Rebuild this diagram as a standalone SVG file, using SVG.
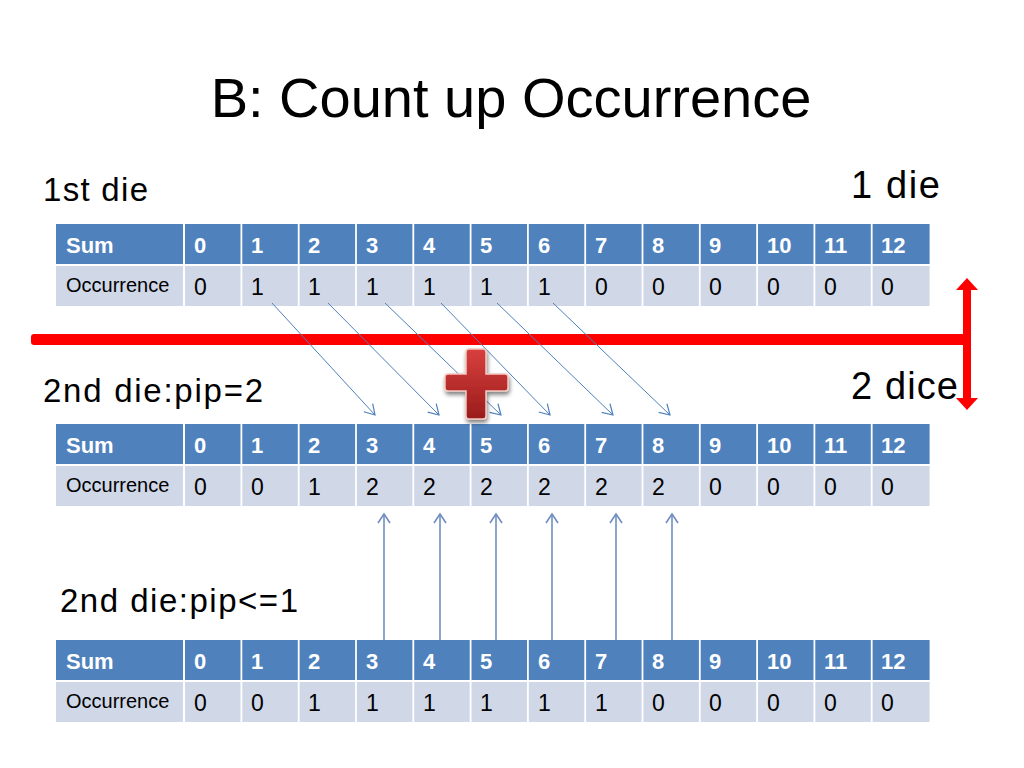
<svg xmlns="http://www.w3.org/2000/svg" width="1024" height="768" viewBox="0 0 1024 768">
<defs>
<style>
.hd{fill:#4F81BD}
.rw{fill:#D0D8E8}
.ht{font-family:"Liberation Sans",Arial,sans-serif;font-weight:bold;font-size:22px;fill:#fff}
.rt{font-family:"Liberation Sans",Arial,sans-serif;font-size:23px;fill:#000}
.ot{font-family:"Liberation Sans",Arial,sans-serif;font-size:20px;fill:#000}
.lb{font-family:"Liberation Sans",Arial,sans-serif;fill:#000}
.ar{stroke:#4F81BD;stroke-width:1;fill:none}
.up{stroke:#6F8EBF;stroke-width:1.6;fill:none}
</style>
<marker id="ah" markerWidth="14" markerHeight="14" refX="11" refY="7" orient="auto" markerUnits="userSpaceOnUse">
<path d="M1,1 L11,7 L1,13" fill="none" stroke="#4F81BD" stroke-width="1.2"/>
</marker>
<marker id="ahu" markerWidth="14" markerHeight="14" refX="11" refY="7" orient="auto" markerUnits="userSpaceOnUse">
<path d="M2,1 L11,7 L2,13" fill="none" stroke="#6F8EBF" stroke-width="1.6"/>
</marker>
<linearGradient id="pg" x1="0" y1="0" x2="0" y2="1">
<stop offset="0" stop-color="#D8403E"/>
<stop offset="1" stop-color="#9A1C1B"/>
</linearGradient>
<filter id="sh" x="-30%" y="-30%" width="160%" height="160%">
<feGaussianBlur in="SourceAlpha" stdDeviation="2"/>
<feOffset dx="1" dy="3" result="o"/>
<feComponentTransfer><feFuncA type="linear" slope="0.5"/></feComponentTransfer>
<feMerge><feMergeNode/><feMergeNode in="SourceGraphic"/></feMerge>
</filter>
<g id="grid">
<rect class="hd" x="56" y="0" width="127" height="40"/>
<rect class="hd" x="185" y="0" width="55.5" height="40"/>
<rect class="hd" x="242.3" y="0" width="55.5" height="40"/>
<rect class="hd" x="299.6" y="0" width="55.5" height="40"/>
<rect class="hd" x="356.9" y="0" width="55.5" height="40"/>
<rect class="hd" x="414.2" y="0" width="55.5" height="40"/>
<rect class="hd" x="471.5" y="0" width="55.5" height="40"/>
<rect class="hd" x="528.8" y="0" width="55.5" height="40"/>
<rect class="hd" x="586.1" y="0" width="55.5" height="40"/>
<rect class="hd" x="643.4" y="0" width="55.5" height="40"/>
<rect class="hd" x="700.7" y="0" width="55.5" height="40"/>
<rect class="hd" x="758" y="0" width="55.5" height="40"/>
<rect class="hd" x="815.3" y="0" width="55.5" height="40"/>
<rect class="hd" x="872.6" y="0" width="57" height="40"/>
<rect class="rw" x="56" y="42" width="127" height="40"/>
<rect class="rw" x="185" y="42" width="55.5" height="40"/>
<rect class="rw" x="242.3" y="42" width="55.5" height="40"/>
<rect class="rw" x="299.6" y="42" width="55.5" height="40"/>
<rect class="rw" x="356.9" y="42" width="55.5" height="40"/>
<rect class="rw" x="414.2" y="42" width="55.5" height="40"/>
<rect class="rw" x="471.5" y="42" width="55.5" height="40"/>
<rect class="rw" x="528.8" y="42" width="55.5" height="40"/>
<rect class="rw" x="586.1" y="42" width="55.5" height="40"/>
<rect class="rw" x="643.4" y="42" width="55.5" height="40"/>
<rect class="rw" x="700.7" y="42" width="55.5" height="40"/>
<rect class="rw" x="758" y="42" width="55.5" height="40"/>
<rect class="rw" x="815.3" y="42" width="55.5" height="40"/>
<rect class="rw" x="872.6" y="42" width="57" height="40"/>
<g class="ht">
<text x="66" y="29">Sum</text>
<text x="194" y="29">0</text>
<text x="251" y="29">1</text>
<text x="308" y="29">2</text>
<text x="366" y="29">3</text>
<text x="423" y="29">4</text>
<text x="480" y="29">5</text>
<text x="538" y="29">6</text>
<text x="595" y="29">7</text>
<text x="652" y="29">8</text>
<text x="709" y="29">9</text>
<text x="767" y="29">10</text>
<text x="824" y="29">11</text>
<text x="881" y="29">12</text>
</g>
<text class="ot" x="66" y="68">Occurrence</text>
</g>
</defs>

<text class="lb" x="511" y="117" font-size="56" text-anchor="middle">B: Count up Occurrence</text>

<g id="labels">
<text class="lb" x="43" y="201" font-size="33" textLength="105">1st die</text>
<text class="lb" x="851" y="198" font-size="38" textLength="89">1 die</text>
<text class="lb" x="43" y="402" font-size="33" textLength="220">2nd die:pip=2</text>
<text class="lb" x="851" y="399" font-size="38" textLength="107">2 dice</text>
<text class="lb" x="60" y="612" font-size="33" textLength="238">2nd die:pip&lt;=1</text>
</g>

<g id="table1" transform="translate(0,224)">
<use href="#grid"/>
<g class="rt">
<text x="194" y="71">0</text><text x="251" y="71">1</text><text x="308" y="71">1</text><text x="366" y="71">1</text><text x="423" y="71">1</text><text x="480" y="71">1</text><text x="538" y="71">1</text><text x="595" y="71">0</text><text x="652" y="71">0</text><text x="709" y="71">0</text><text x="767" y="71">0</text><text x="824" y="71">0</text><text x="881" y="71">0</text>
</g>
</g>

<g id="table2" transform="translate(0,424)">
<use href="#grid"/>
<g class="rt">
<text x="194" y="71">0</text><text x="251" y="71">0</text><text x="308" y="71">1</text><text x="366" y="71">2</text><text x="423" y="71">2</text><text x="480" y="71">2</text><text x="538" y="71">2</text><text x="595" y="71">2</text><text x="652" y="71">2</text><text x="709" y="71">0</text><text x="767" y="71">0</text><text x="824" y="71">0</text><text x="881" y="71">0</text>
</g>
</g>

<g id="table3" transform="translate(0,640)">
<use href="#grid"/>
<g class="rt">
<text x="194" y="71">0</text><text x="251" y="71">0</text><text x="308" y="71">1</text><text x="366" y="71">1</text><text x="423" y="71">1</text><text x="480" y="71">1</text><text x="538" y="71">1</text><text x="595" y="71">1</text><text x="652" y="71">0</text><text x="709" y="71">0</text><text x="767" y="71">0</text><text x="824" y="71">0</text><text x="881" y="71">0</text>
</g>
</g>

<g id="divider">
<rect x="31" y="334" width="937" height="11" rx="3" fill="#FF0000"/>
<rect x="963" y="288" width="8" height="112" fill="#FF0000"/>
<path d="M956,290 L967,278 L978,290 Z" fill="#FF0000"/>
<path d="M956,398 L967,410 L978,398 Z" fill="#FF0000"/>
</g>

<g id="connectors">
<line class="ar" x1="272" y1="303" x2="375" y2="415" marker-end="url(#ah)"/>
<line class="ar" x1="328" y1="303" x2="439" y2="415" marker-end="url(#ah)"/>
<line class="ar" x1="385" y1="303" x2="501" y2="415" marker-end="url(#ah)"/>
<line class="ar" x1="441" y1="303" x2="550" y2="415" marker-end="url(#ah)"/>
<line class="ar" x1="497" y1="303" x2="613" y2="415" marker-end="url(#ah)"/>
<line class="ar" x1="553" y1="303" x2="670" y2="415" marker-end="url(#ah)"/>
<line class="up" x1="384" y1="640" x2="384" y2="514" marker-end="url(#ahu)"/>
<line class="up" x1="440" y1="640" x2="440" y2="514" marker-end="url(#ahu)"/>
<line class="up" x1="496" y1="640" x2="496" y2="514" marker-end="url(#ahu)"/>
<line class="up" x1="552" y1="640" x2="552" y2="514" marker-end="url(#ahu)"/>
<line class="up" x1="616" y1="640" x2="616" y2="514" marker-end="url(#ahu)"/>
<line class="up" x1="672" y1="640" x2="672" y2="514" marker-end="url(#ahu)"/>
</g>

<g id="plus" filter="url(#sh)">
<path d="M469,349 L483,349 Q486,349 486,352 L486,374 L505,374 Q508,374 508,377 L508,388 Q508,391 505,391 L486,391 L486,416 Q486,419 483,419 L469,419 Q466,419 466,416 L466,391 L448,391 Q445,391 445,388 L445,377 Q445,374 448,374 L466,374 L466,352 Q466,349 469,349 Z" fill="url(#pg)" stroke="#F2C8C0" stroke-width="1.5"/>
</g>
</svg>
